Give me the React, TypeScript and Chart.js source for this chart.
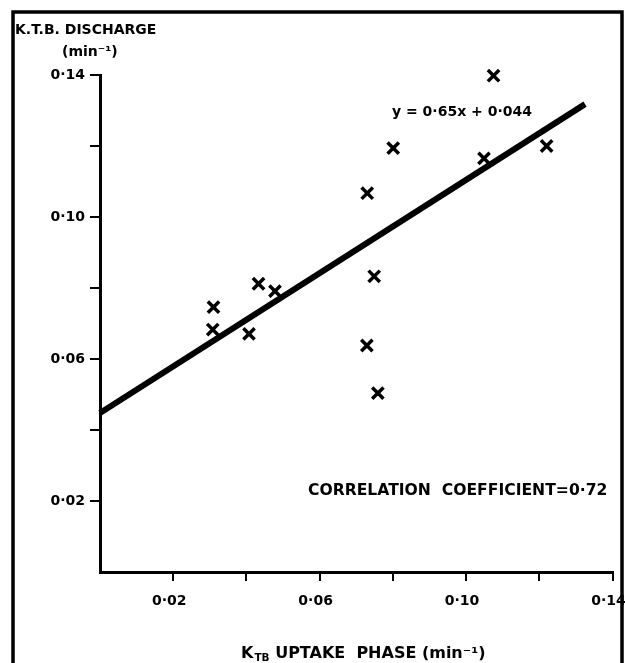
import React, { useEffect, useRef } from 'react';
import { Chart, registerables } from 'chart.js';

Chart.register(...registerables);

// ---- data ----
const uptakeX = [0.0310, 0.0308, 0.0433, 0.0478, 0.0407, 0.0730, 0.0801, 0.0749, 0.0729, 0.0759, 0.1075, 0.1049, 0.1220];
const dischargeY = [0.0746, 0.0683, 0.0812, 0.0791, 0.0671, 0.1067, 0.1194, 0.0833, 0.0638, 0.0504, 0.1398, 0.1165, 0.1200];
const fitX = [0, 0.1325];
const fitY = [0.0448, 0.1318];
const xTickValues = [0.02, 0.06, 0.10, 0.14];
const xTickLabels = ['0·02', '0·06', '0·10', '0·14'];
const yTickValues = [0.02, 0.06, 0.10, 0.14];
const yTickLabels = ['0·02', '0·06', '0·10', '0·14'];
const yTitle = 'K.T.B. DISCHARGE';
const yUnit = '(min⁻¹)';
const equationText = 'y = 0·65x + 0·044';
const correlationText = 'CORRELATION  COEFFICIENT=0·72';
const xTitleMain = 'K';
const xTitleSub = 'TB';
const xTitleRest = ' UPTAKE  PHASE (min⁻¹)';

const FONT = '"DejaVu Sans", sans-serif';

function labelFor(v: number, values: number[], labels: string[]) {
  for (let i = 0; i < values.length; i++) {
    if (Math.abs(values[i] - v) < 1e-6) return labels[i];
  }
  return '';
}

const hideZero = (c: any) => (c.tick && Math.abs(c.tick.value) < 1e-9 ? 'rgba(0,0,0,0)' : '#000');

const decor = {
  id: 'decor',
  afterDraw(chart: any) {
    const ctx = chart.ctx as CanvasRenderingContext2D;
    ctx.save();
    // frame
    ctx.strokeStyle = '#000';
    ctx.lineWidth = 3.5;
    ctx.strokeRect(13, 12, 609, 700);

    ctx.fillStyle = '#000';
    ctx.textBaseline = 'middle';
    ctx.textAlign = 'left';
    ctx.font = `bold 14px ${FONT}`;
    ctx.fillText(yTitle, 15, 30);
    ctx.font = `bold 14px ${FONT}`;
    ctx.fillText(yUnit, 62, 52);

    ctx.font = `bold 14px ${FONT}`;
    ctx.fillText(equationText, 392, 112);

    ctx.font = `bold 15.6px ${FONT}`;
    ctx.fillText(correlationText, 308, 491);

    // x-axis title with subscript
    let x = 241;
    const y = 654;
    ctx.font = `bold 16px ${FONT}`;
    ctx.fillText(xTitleMain, x, y);
    x += ctx.measureText(xTitleMain).width;
    ctx.font = `bold 10.5px ${FONT}`;
    ctx.fillText(xTitleSub, x + 1, y + 4);
    x += ctx.measureText(xTitleSub).width + 1;
    ctx.font = `bold 16px ${FONT}`;
    ctx.fillText(xTitleRest, x, y);
    ctx.restore();
  },
};

export default function App() {
  const ref = useRef<HTMLCanvasElement | null>(null);

  useEffect(() => {
    if (!ref.current) return;
    const points = uptakeX.map((x, i) => ({ x, y: dischargeY[i] }));
    const fit = fitX.map((x, i) => ({ x, y: fitY[i] }));
    const tickFont = { family: FONT, weight: 'bold' as const, size: 14 };

    const chart = new Chart(ref.current, {
      type: 'scatter',
      data: {
        datasets: [
          {
            data: fit,
            showLine: true,
            borderColor: '#000',
            borderWidth: 6,
            pointRadius: 0,
            borderCapStyle: 'butt',
            clip: false as any,
          },
          {
            data: points,
            pointStyle: 'crossRot',
            pointRadius: 8,
            pointBorderWidth: 3.5,
            borderColor: '#000',
            backgroundColor: '#000',
            clip: false as any,
          },
        ],
      },
      options: {
        animation: false,
        responsive: false,
        maintainAspectRatio: false,
        devicePixelRatio: 1,
        layout: { padding: { left: 0, top: 75, right: 12.5, bottom: 0 } },
        plugins: { legend: { display: false }, tooltip: { enabled: false } },
        events: [],
        scales: {
          x: {
            type: 'linear',
            min: 0,
            max: 0.14,
            ticks: {
              stepSize: 0.02,
              autoSkip: false,
              maxRotation: 0,
              padding: 12,
              labelOffset: -4,
              color: '#000',
              font: tickFont,
              callback: (v: any) => labelFor(Number(v), xTickValues, xTickLabels),
            },
            grid: { drawOnChartArea: false, drawTicks: true, tickLength: 9, lineWidth: 2, color: hideZero },
            border: { display: true, color: '#000', width: 3 },
            afterFit: (s: any) => {
              s.height = 91;
              s.paddingLeft = 0;
              s.paddingRight = 0;
            },
          },
          y: {
            type: 'linear',
            min: 0,
            max: 0.14,
            ticks: {
              stepSize: 0.02,
              autoSkip: false,
              padding: 5,
              color: '#000',
              font: tickFont,
              callback: (v: any) => labelFor(Number(v), yTickValues, yTickLabels),
            },
            grid: { drawOnChartArea: false, drawTicks: true, tickLength: 10, lineWidth: 2, color: hideZero },
            border: { display: true, color: '#000', width: 3 },
            afterFit: (s: any) => {
              s.width = 100;
              s.paddingTop = 0;
              s.paddingBottom = 0;
            },
          },
        },
      },
      plugins: [decor],
    });
    return () => chart.destroy();
  }, []);

  return (
    <div style={{ position: 'absolute', left: 0, top: 0, width: 625, height: 663, background: '#fff' }}>
      <canvas ref={ref} width={625} height={663} style={{ width: 625, height: 663, display: 'block' }} />
    </div>
  );
}
